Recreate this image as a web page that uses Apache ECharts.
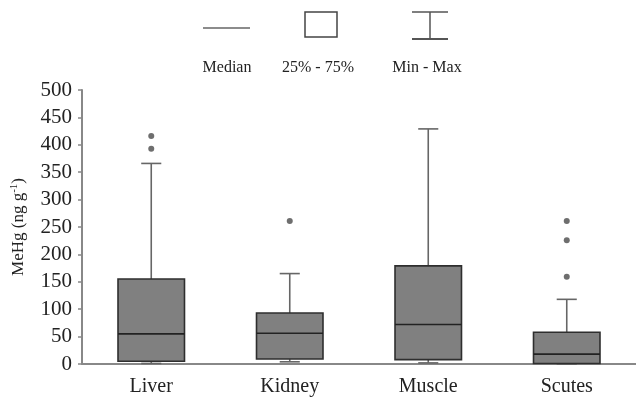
<!DOCTYPE html>
<html>
<head>
<meta charset="utf-8">
<script src="https://cdn.jsdelivr.net/npm/echarts@6/dist/echarts.min.js"></script>
<style>html,body{margin:0;padding:0;background:#fff;}#c{width:636px;height:397px;}</style>
</head>
<body>
<div id="c"></div>
<script>
const categories = ['Liver', 'Kidney', 'Muscle', 'Scutes'];
const minVals = [1, 4, 2, 0];
const q1Vals = [5, 9, 8, 1];
const medianVals = [55, 56, 72, 18];
const q3Vals = [155, 93, 179, 58];
const maxVals = [366, 165, 429, 118];
const outlierCat = [0, 0, 1, 3, 3, 3];
const outlierVals = [416, 393, 261, 261, 226, 159];
const yTicks = [0, 50, 100, 150, 200, 250, 300, 350, 400, 450, 500];

const boxData = categories.map((c, i) => [i, minVals[i], q1Vals[i], medianVals[i], q3Vals[i], maxVals[i]]);
const outlierData = outlierCat.map((c, i) => [c, outlierVals[i]]);

const font = '"Liberation Serif", "Times New Roman", serif';
const chart = echarts.init(document.getElementById('c'));

function renderBox(params, api) {
  const idx = api.value(0);
  const pMin = api.coord([idx, api.value(1)]);
  const pQ1 = api.coord([idx, api.value(2)]);
  const pMed = api.coord([idx, api.value(3)]);
  const pQ3 = api.coord([idx, api.value(4)]);
  const pMax = api.coord([idx, api.value(5)]);
  const band = api.size([1, 0])[0];
  const bw = band * 0.48;
  const cw = band * 0.145;
  const x = pQ1[0];
  const wStyle = { stroke: '#666', lineWidth: 1.6 };
  return {
    type: 'group',
    children: [
      { type: 'line', shape: { x1: x, y1: pQ3[1], x2: x, y2: pMax[1] }, style: wStyle },
      { type: 'line', shape: { x1: x - cw / 2, y1: pMax[1], x2: x + cw / 2, y2: pMax[1] }, style: wStyle },
      { type: 'line', shape: { x1: x, y1: pQ1[1], x2: x, y2: pMin[1] }, style: wStyle },
      { type: 'line', shape: { x1: x - cw / 2, y1: pMin[1], x2: x + cw / 2, y2: pMin[1] }, style: wStyle },
      { type: 'rect', shape: { x: x - bw / 2, y: pQ3[1], width: bw, height: pQ1[1] - pQ3[1] },
        style: { fill: '#808080', stroke: '#2e2e2e', lineWidth: 1.6 } },
      { type: 'line', shape: { x1: x - bw / 2, y1: pMed[1], x2: x + bw / 2, y2: pMed[1] },
        style: { stroke: '#222', lineWidth: 1.6 } }
    ]
  };
}

const option = {
  backgroundColor: '#fff',
  animation: false,
  textStyle: { fontFamily: font },
  grid: { left: 82, right: -6, top: 90, bottom: 32 },
  xAxis: {
    type: 'category',
    data: categories,
    boundaryGap: true,
    axisLine: { lineStyle: { color: '#888', width: 2 } },
    axisTick: { show: false },
    axisLabel: { color: '#222', fontSize: 20, fontFamily: font, margin: 13 }
  },
  yAxis: {
    type: 'value',
    min: 0, max: 500, interval: 50,
    splitLine: { show: false },
    axisLine: { show: true, lineStyle: { color: '#888', width: 2 } },
    axisTick: { show: true, length: 4, lineStyle: { color: '#888', width: 1.5 } },
    axisLabel: { color: '#222', fontSize: 21, fontFamily: font, margin: 10,
      formatter: v => (yTicks.indexOf(v) >= 0 ? String(v) : '') },
    name: '{n|MeHg (ng g}{s|-1}{n|)}',
    nameLocation: 'middle',
    nameGap: 54,
    nameRotate: 90,
    nameTextStyle: {
      rich: {
        n: { fontSize: 17, color: '#222', fontFamily: font },
        s: { fontSize: 11, color: '#222', fontFamily: font, verticalAlign: 'top', padding: [0, 0, 8, 0] }
      }
    }
  },
  series: [
    {
      type: 'custom',
      renderItem: renderBox,
      encode: { x: 0, y: [1, 2, 3, 4, 5] },
      data: boxData,
      z: 2
    },
    {
      type: 'scatter',
      data: outlierData,
      symbol: 'circle',
      symbolSize: 6,
      itemStyle: { color: '#4a4a4a' },
      z: 3
    }
  ],
  graphic: [
    { type: 'line', shape: { x1: 203, y1: 28, x2: 250, y2: 28 }, style: { stroke: '#666', lineWidth: 1.5 } },
    { type: 'rect', shape: { x: 305, y: 12, width: 32, height: 25 }, style: { fill: 'none', stroke: '#444', lineWidth: 1.5 } },
    { type: 'line', shape: { x1: 412, y1: 12, x2: 448, y2: 12 }, style: { stroke: '#555', lineWidth: 1.5 } },
    { type: 'line', shape: { x1: 412, y1: 39, x2: 448, y2: 39 }, style: { stroke: '#555', lineWidth: 1.8 } },
    { type: 'line', shape: { x1: 430, y1: 12, x2: 430, y2: 39 }, style: { stroke: '#555', lineWidth: 1.5 } },
    { type: 'text', x: 227, y: 68, style: { text: 'Median', fill: '#222', font: '16px ' + font, align: 'center', verticalAlign: 'middle' } },
    { type: 'text', x: 318, y: 68, style: { text: '25% - 75%', fill: '#222', font: '16px ' + font, align: 'center', verticalAlign: 'middle' } },
    { type: 'text', x: 427, y: 68, style: { text: 'Min - Max', fill: '#222', font: '16px ' + font, align: 'center', verticalAlign: 'middle' } }
  ]
};
chart.setOption(option);
</script>
</body>
</html>
